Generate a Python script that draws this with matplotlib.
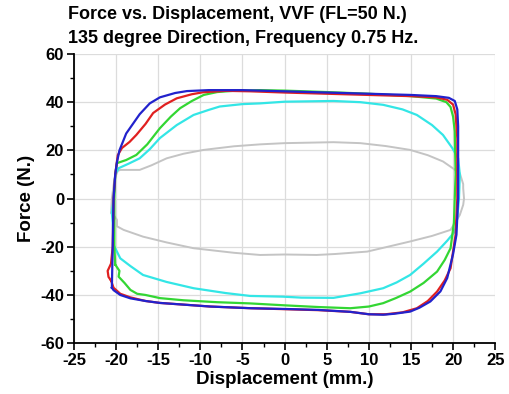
import matplotlib.pyplot as plt
from matplotlib.ticker import MultipleLocator

plt.rcParams['font.family'] = ['Liberation Sans', 'DejaVu Sans']
plt.rcParams['font.weight'] = 'bold'
plt.rcParams['axes.unicode_minus'] = False

# hysteresis loops, each traced clockwise from the lower left edge
gray_x = [-20.3, -20.6, -20.5, -20.2, -19.8, -19.5, -17.2, -15.8, -14, -12, -9.6, -6, -2.9, 0, 5.8, 9, 12,
          14.9, 17, 18.8, 20, 20.8, 21.2, 21.2, 21.3, 21.2, 20.8, 19.7, 17.5, 14.9, 12, 9.8, 6, 3.8, 0,
          -2.9, -6, -10.8, -14, -16.8, -19.1, -19.9, -19.9, -20.3]
gray_y = [-6.8, -6, 0, 8, 11.5, 11.9, 11.9, 13.8, 16.7, 18.6, 20.2, 21.7, 22.5, 23, 23.4, 23, 21.8,
          20.2, 18, 15.4, 12.5, 10.5, 6, 4.3, 0, -2.6, -6.8, -13, -15.5, -17.8, -20.2, -22, -23, -23.4, -23.2,
          -23.4, -22.5, -20.6, -18.2, -15.8, -13, -11.5, -8.8, -6.8]

cyan_x = [-20.3, -20.4, -20.5, -20.3, -20.1, -19.7, -18.5, -17.2, -16, -14.8, -12.8, -10.8, -9, -7.7, -5,
          -2.9, 0, 5.8, 9, 11.7, 14, 15.7, 17.5, 18.8, 19.9, 20.6, 20.8, 20.7, 20.5, 20.2, 19.3, 18.1, 16.5,
          14.9, 13.3, 11.7, 9, 5.8, 2, -0.2, -4.1, -7, -10.8, -14, -16.8, -18.3, -19.5, -20.3]
cyan_y = [-19.2, -10, -6, 0, 10, 12.6, 14.5, 16.7, 20.5, 25.1, 30.5, 34.7, 36.8, 38.2, 39.2,
          39.5, 40.2, 40.5, 40, 38.9, 37, 34.7, 30.5, 26.4, 21, 16.7, 10, 0, -8, -13.7, -17.5, -22, -27,
          -31.7, -34.8, -37.2, -39.3, -41.2, -41.1, -40.7, -40.4, -39.2, -37.2, -34.6, -31.7, -28, -24.8, -19.2]

green_x = [-20.1, -20.2, -20.2, -20.1, -19.9, -18.8, -17.6, -16.3, -14.8, -13.5, -12.4, -11, -9.6, -8, -6.1,
           -3, 0, 5, 10, 15, 18, 19.2, 19.7, 20, 20.2, 20.3, 20.1, 19.7, 19, 18.1, 16.5, 14.9, 13.2, 11.7,
           10, 7.8, 4, 0, -4.1, -8, -12, -14.8, -16.5, -17.5, -18.3, -19, -19.7, -19.6, -20.1]
green_y = [-27.4, -20, 0, 10, 14.7, 16, 18.1, 22.5, 29.2, 34, 37.5, 40.5, 43, 44.2, 44.7,
           45, 44.8, 44.2, 43.5, 42.5, 41.5, 40, 38, 34, 28, 10, -10, -20.6, -25.5, -30.3, -35, -38.6, -41.3, -43.4,
           -44.8, -45.5, -45, -44.3, -43.5, -43, -42.2, -41.3, -40, -39.5, -37.9, -35, -32.4, -30, -27.4]

red_x = [-20.6, -20.9, -21, -20.6, -20.4, -20.3, -20.1, -19.8, -19.3, -18.4, -17.6, -16.5, -15.6, -14.2, -12.8,
         -11, -9.7, -7, -4, 0, 5, 10, 15, 18, 19.3, 20, 20.3, 20.5, 20.5, 20.3, 19.7, 19, 18.1, 17, 15.7,
         14, 12, 10, 7.8, 4, 0, -4, -8.8, -12, -14.8, -16.5, -18.3, -19.5, -20.3, -20.6]
red_y = [-34, -32.5, -30, -27, -20, 0, 10, 18, 21, 23.5, 26.4, 31, 35.5, 39, 41.6,
         43.3, 44.1, 44.7, 44.5, 44, 43.5, 43, 42.5, 42, 41, 39, 35, 25, 0, -15, -28.9, -34, -38.6, -42.5, -45.5,
         -47.2, -48, -48, -47, -46.3, -45.9, -45.5, -44.8, -44, -43.3, -42.5, -41, -39.5, -37, -34]

blue_x = [-20.5, -20.4, -20.3, -20.1, -19.9, -19.6, -18.8, -17.2, -16, -14.8, -13, -11.6, -9, -5, 0, 5, 10,
          15, 18, 19.5, 20.2, 20.5, 20.6, 20.6, 20.4, 20, 19.3, 18.5, 17.3, 16, 14.9, 13, 11.7, 10, 7.8, 4,
          0, -4, -8.8, -12, -14.8, -16.5, -18.3, -19.5, -20.3, -20.5]
blue_y = [-37, -20, 0, 10, 15, 20, 27, 35, 39.5, 42, 43.8, 44.6, 45, 45, 44.5, 44, 43.5,
          43, 42.5, 41.8, 40.5, 37, 30, 0, -15, -23, -33, -38.5, -42.7, -45.3, -46.9, -47.8, -48.2, -48, -47, -46.2,
          -45.8, -45.5, -44.8, -44, -43.3, -42.5, -41.4, -40, -38, -37]

fig = plt.figure(figsize=(5.1, 3.94), dpi=100)
ax = fig.add_axes([0.145, 0.129, 0.826, 0.734])

ax.plot(gray_x, gray_y, color='#c4c4c4', lw=1.4)
ax.plot(cyan_x, cyan_y, color='#33e6e6', lw=1.6)
ax.plot(green_x, green_y, color='#33d633', lw=1.6)
ax.plot(red_x, red_y, color='#e02020', lw=1.6)
ax.plot(blue_x, blue_y, color='#2222cc', lw=1.6)

ax.set_xlim(-25, 25)
ax.set_ylim(-60, 60)
ax.xaxis.set_major_locator(MultipleLocator(5))
ax.xaxis.set_minor_locator(MultipleLocator(2.5))
ax.yaxis.set_major_locator(MultipleLocator(20))
ax.yaxis.set_minor_locator(MultipleLocator(10))
ax.grid(True, which='major', color='#dcdcdc', lw=0.9)
ax.set_axisbelow(True)
for s in ['top', 'right']:
    ax.spines[s].set_visible(False)
for s in ['left', 'bottom']:
    ax.spines[s].set_linewidth(1.3)
ax.tick_params(which='major', length=5, width=1.2, labelsize=12, pad=2)
ax.tick_params(which='minor', length=3, width=1.0)
for lab in ax.get_xticklabels() + ax.get_yticklabels():
    lab.set_fontweight('bold')

ax.set_xlabel('Displacement (mm.)', fontsize=13.5, fontweight='bold', labelpad=2)
ax.set_ylabel('Force (N.)', fontsize=13.5, fontweight='bold', labelpad=4)

fig.text(0.133, 0.962, 'Force vs. Displacement, VVF (FL=50 N.)', fontsize=13, fontweight='bold', va='center')
fig.text(0.133, 0.903, '135 degree Direction, Frequency 0.75 Hz.', fontsize=13, fontweight='bold', va='center')

plt.savefig('out.png', dpi=100)
